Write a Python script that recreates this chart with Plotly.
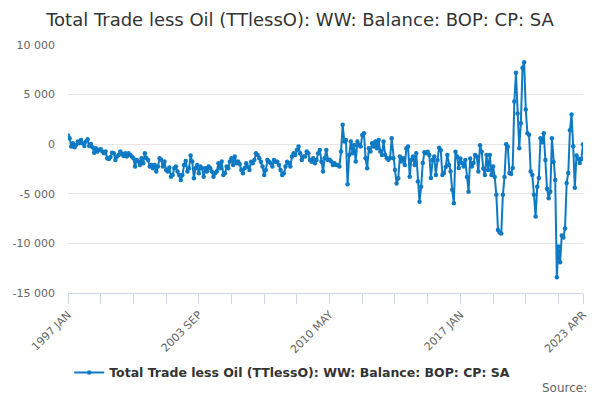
import plotly.graph_objects as go

MONTHS = ["JAN", "FEB", "MAR", "APR", "MAY", "JUN", "JUL", "AUG", "SEP", "OCT", "NOV", "DEC"]
START_YEAR = 1997

# Monthly balance values (£m), one list per year
v1997 = [870, 600, -240, 100, -300, -50, 260, 100, 430, 100, -170, 270]
v1998 = [500, -170, 30, -300, -850, -400, -740, -570, -500, -740, -910, -740]
v1999 = [-1410, -1500, -1300, -850, -910, -1590, -1250, -1080, -740, -980, -1180, -910]
v2000 = [-1250, -910, -1080, -1250, -1410, -2260, -1590, -1750, -2090, -1410, -1920, -910]
v2001 = [-1410, -1590, -2260, -2090, -2430, -2090, -2760, -2260, -1420, -1580, -2260, -1750]
v2002 = [-2600, -2760, -2360, -3270, -3100, -2430, -2260, -2760, -3100, -3610, -3100, -2090]
v2003 = [-1690, -2760, -2430, -1150, -1750, -3440, -2430, -2090, -2930, -2260, -2430, -3270]
v2004 = [-2430, -2760, -2260, -2430, -2760, -3270, -2930, -2760, -1920, -2430, -1750, -3100]
v2005 = [-2930, -2260, -2430, -1750, -1420, -2090, -1250, -1920, -1750, -2000, -2590, -2930]
v2006 = [-2430, -1920, -2260, -2590, -1760, -1920, -1590, -910, -1080, -1420, -1760, -2260]
v2007 = [-3100, -2590, -1590, -1760, -1920, -2260, -1590, -1760, -1760, -2090, -2590, -3100]
v2008 = [-2930, -2260, -1760, -1920, -2260, -1250, -910, -1080, -580, -240, -910, -1590]
v2009 = [-1250, -1250, -740, -910, -1590, -1760, -1420, -1920, -1590, -910, -580, -1760]
v2010 = [-2760, -1420, -580, -1590, -1580, -1750, -2090, -1920, -2090, -2090, -2260, -740]
v2011 = [1950, 270, 430, -4040, -1080, 270, -910, -70, -1750, 270, -70, -240]
v2012 = [940, 1110, -1420, -2430, -410, -740, 100, -240, 270, -410, 430, -740]
v2013 = [-1080, 270, -1080, -1420, -1580, -1400, 600, -1420, -2600, -3970, -3440, -1250]
v2014 = [-1750, -1420, -2090, -410, -240, -3270, -1580, -1250, -2090, -910, -3770, -5800]
v2015 = [-4300, -1900, -800, -900, -750, -1100, -3400, -1600, -1250, -3100, -1600, -350]
v2016 = [-600, -3100, -2900, -2300, -1100, -2100, -2750, -4600, -5950, -750, -1250, -2400]
v2017 = [-1450, -1900, -2250, -1600, -3300, -4800, -1450, -2250, -1900, -1100, -1250, -2750]
v2018 = [-100, -750, -2450, -3100, -1100, -2600, -1100, -3100, -2250, -3300, -5100, -8650]
v2019 = [-8900, -9000, -5100, -3300, 0, -250, -2900, -3000, -2400, 4300, 7200, 3100]
v2020 = [-400, 2100, 7700, 8250, 3500, 1100, 950, -2750, -3100, -5100, -7300, -4300]
v2021 = [-3400, 600, 200, 1100, -1600, -4500, -5450, -4800, 600, -1800, -3600, -13400]
v2022 = [-10300, -11900, -9200, -9400, -8500, -3900, -2900, 1400, 3000, -200, -4400, -1150]
v2023 = [-1450, -1900, -1500, 0]

yearly = [v1997, v1998, v1999, v2000, v2001, v2002, v2003, v2004, v2005, v2006,
          v2007, v2008, v2009, v2010, v2011, v2012, v2013, v2014, v2015, v2016,
          v2017, v2018, v2019, v2020, v2021, v2022, v2023]

values = []
labels = []
for i, yr_vals in enumerate(yearly):
    for j, v in enumerate(yr_vals):
        values.append(v)
        labels.append(f"{START_YEAR + i} {MONTHS[j]}")

# axis ticks
y_ticks = [-15000, -10000, -5000, 0, 5000, 10000]
y_ticktext = [f"{t:,}".replace(",", " ") for t in y_ticks]
tick_step = 20
label_step = 80
x_tick_idx = list(range(0, len(labels), tick_step)) + [len(labels) - 1]
x_tickvals = [labels[i] for i in x_tick_idx]
x_ticktext = [labels[i] if (i % label_step == 0 or i == len(labels) - 1) else "" for i in x_tick_idx]

SERIES = "Total Trade less Oil (TTlessO): WW: Balance: BOP: CP: SA"
COLOR = "rgb(14,122,196)"
FONT = "DejaVu Sans"

fig = go.Figure()
fig.add_trace(go.Scatter(
    x=labels, y=values, mode="lines+markers", name=SERIES,
    line=dict(color=COLOR, width=2),
    marker=dict(color=COLOR, size=4.5),
    hoverinfo="skip",
))

fig.update_layout(
    width=600, height=400,
    margin=dict(l=68, r=17, t=45, b=107, autoexpand=False),
    paper_bgcolor="white", plot_bgcolor="white",
    font=dict(family=FONT, size=11, color="#666666"),
    title=dict(text=SERIES, x=0.5, xanchor="center", y=0.952, yanchor="middle",
               font=dict(family=FONT, size=18, color="#333333")),
    showlegend=True,
    legend=dict(orientation="h", x=0.487, xanchor="center", xref="container",
                yref="container", y=0.068, yanchor="middle",
                font=dict(family=FONT, size=12.5, color="#333333", weight="bold")),
    xaxis=dict(type="category", categoryorder="array", categoryarray=labels,
               range=[0, len(labels) - 1], automargin=False,
               tickmode="array", tickvals=x_tickvals, ticktext=x_ticktext,
               tickangle=-45, ticks="outside", ticklen=10, tickcolor="#ccd6eb",
               showline=True, linecolor="#ccd6eb", linewidth=1,
               showgrid=False, zeroline=False,
               tickfont=dict(family=FONT, size=11, color="#666666")),
    yaxis=dict(range=[-15000, 10000], tickmode="array", tickvals=y_ticks, ticktext=y_ticktext,
               showgrid=True, gridcolor="#e6e6e6", gridwidth=1, zeroline=False,
               showline=False, ticks="", ticklabelstandoff=12, automargin=False,
               tickfont=dict(family=FONT, size=11, color="#666666")),
    annotations=[dict(text="Source:", xref="paper", yref="paper",
                      x=(589 - 68) / 515, y=(293 - 388) / 248,
                      xanchor="right", yanchor="middle", showarrow=False,
                      font=dict(family=FONT, size=12, color="#666666"))],
)

fig.write_html("out.html", config={"displayModeBar": False},
               post_script="document.body.style.margin='0';document.body.style.overflow='hidden';")
